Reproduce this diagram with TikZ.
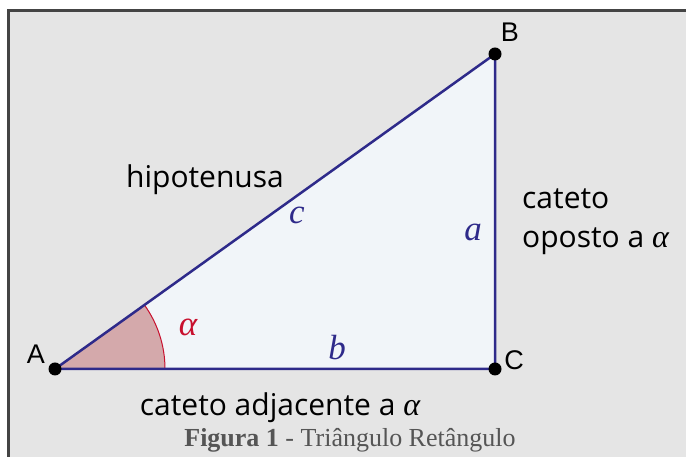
\documentclass[tikz,border=0pt]{standalone}
\usepackage{fontspec}
\setmainfont{Open Sans}
\newfontfamily\lblfont{Liberation Sans}
\newfontfamily\capfont{Liberation Serif}
\newfontfamily\myitfont{Liberation Serif}
\definecolor{bg}{HTML}{E5E5E5}
\definecolor{tri}{HTML}{F1F5F9}
\definecolor{edge}{HTML}{2E2A8A}
\definecolor{arcfill}{HTML}{D4A9AB}
\definecolor{arcred}{HTML}{C8102E}
\definecolor{frame}{HTML}{444444}
\definecolor{captxt}{HTML}{555555}
\newcommand{\ital}[1]{{\fontsize{32}{32}\selectfont\myitfont\itshape #1}}
\begin{document}
\begin{tikzpicture}[x=1pt,y=1pt,
  vertex/.style={circle,fill=black,inner sep=0pt,minimum size=13pt},
  ptlabel/.style={font=\lblfont\fontsize{27}{27}\selectfont,inner sep=0pt},
  txt/.style={font=\fontsize{30}{34}\selectfont,inner sep=0pt},
  side/.style={font=\fontsize{35}{35}\selectfont\myitfont\itshape,text=edge,inner sep=0pt},
  edgeline/.style={draw=edge,line width=2.5pt,line cap=round,line join=round}]
\useasboundingbox (0,0) rectangle (686,457);
\fill[white] (0,0) rectangle (686,457);
\fill[bg] (8.5,0) rectangle (686,446);
\draw[frame,line width=3pt] (8.5,0) -- (8.5,446) -- (686,446);
\coordinate (A) at (55,88);
\coordinate (B) at (495,403);
\coordinate (C) at (495,88);
\fill[tri] (A) -- (B) -- (C) -- cycle;
\fill[arcfill] (A) -- ++(110,0) arc[start angle=0,end angle=35.6,radius=110] -- cycle;
\draw[arcred,line width=1pt] (A) ++(110,0) arc[start angle=0,end angle=35.6,radius=110];
\draw[edgeline] (A) -- (B) -- (C) -- cycle;
\node[vertex] (vA) at (A) {};
\node[vertex] (vB) at (B) {};
\node[vertex] (vC) at (C) {};
\node[ptlabel] (lA) at (36,103) {A};
\node[ptlabel] (lB) at (510,425) {B};
\node[ptlabel] (lC) at (514,97) {C};
\node[txt] (hyp) at (205,277) {hipotenusa};
\node[side] (sc) at (297,242) {c};
\node[side] (sa) at (473,225) {a};
\node[side] (sb) at (337,109) {b};
\node[txt,anchor=west] (op1) at (522,258) {cateto};
\node[txt,anchor=west] (op2) at (522,216) {oposto a \ital{α}};
\node[font=\fontsize{35}{35}\selectfont\myitfont\itshape,text=arcred,inner sep=0pt] (alpha) at (188,130) {α};
\node[txt] (adj) at (280,49) {cateto adjacente a \ital{α}};
\node[font=\capfont\fontsize{26}{26}\selectfont,text=captxt,inner sep=0pt] (cap) at (350,17) {\textbf{Figura 1} - Triângulo Retângulo};
\end{tikzpicture}
\end{document}
